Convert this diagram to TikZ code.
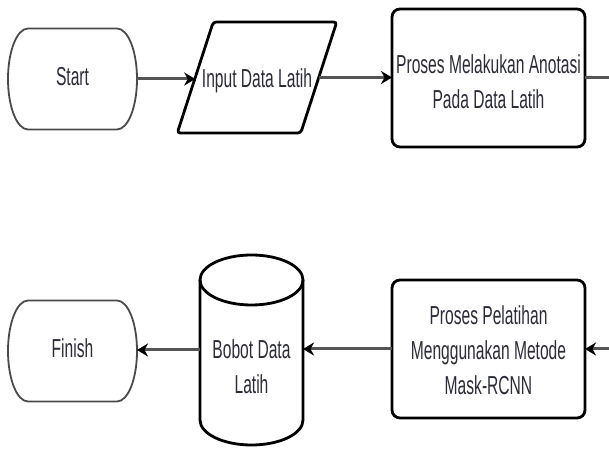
\documentclass[tikz,border=0pt]{standalone}
\usepackage{fontspec}
\setmainfont{Liberation Sans}
\usepackage{graphicx}
\usetikzlibrary{arrows.meta}
\definecolor{txt}{HTML}{2C2C38}
\definecolor{linegray}{HTML}{555555}
\definecolor{termgray}{HTML}{4A4A4A}
\newcommand{\tx}[1]{\textcolor{txt}{\scalebox{0.6}[1]{\begin{tabular}{@{}c@{}}#1\end{tabular}}}}
\tikzset{
  base/.style={inner sep=0pt, outer sep=0pt, font=\fontsize{26}{35}\selectfont},
  termnode/.style={base, minimum width=129pt, minimum height=101pt},
  iobox/.style={base, minimum width=123.5pt, minimum height=111pt},
  procbox/.style={base, draw=black, line width=2.8pt, rounded corners=8pt, fill=white, minimum width=193pt, minimum height=138pt},
  dbnode/.style={base, minimum width=103pt, minimum height=190pt},
  lbl/.style={base},
  termline/.style={draw=termgray, line width=1.8pt},
  shapeline/.style={draw=black, line width=2.8pt},
  conn/.style={draw=linegray, line width=3pt},
  arr/.style={conn, -{Stealth[length=11pt, width=13pt, inset=3.5pt, color=black]}},
}
\begin{document}
\begin{tikzpicture}[x=1pt, y=1pt]
\useasboundingbox (0,0) rectangle (609,449);
\fill[white] (0,0) rectangle (609,449);

% nodes
\node[termnode] (start) at (72.5,370) {\tx{Start}};
\node[iobox] (input) at (257,371.5) {};
\node[procbox] (proc1) at (488.5,371) {};
\node[procbox] (proc2) at (488.5,100) {};
\node[dbnode] (db) at (251.5,99) {};
\node[termnode] (finish) at (72.5,98) {\tx{Finish}};
\coordinate (out1) at (609,371);
\coordinate (in2) at (609,100);

% outlines
\draw[termline] ([xshift=20pt]start.north west) -- ([xshift=-20pt]start.north east)
  arc[start angle=90, end angle=-90, x radius=20pt, y radius=50.5pt]
  -- ([xshift=20pt]start.south west)
  arc[start angle=270, end angle=90, x radius=20pt, y radius=50.5pt] -- cycle;
\draw[termline] ([xshift=20pt]finish.north west) -- ([xshift=-20pt]finish.north east)
  arc[start angle=90, end angle=-90, x radius=20pt, y radius=50.5pt]
  -- ([xshift=20pt]finish.south west)
  arc[start angle=270, end angle=90, x radius=20pt, y radius=50.5pt] -- cycle;
\draw[shapeline, rounded corners=3pt] ([xshift=18pt]input.north west) -- ([xshift=18pt]input.north east)
  -- ([xshift=-18pt]input.south east) -- ([xshift=-18pt]input.south west) -- cycle;
\draw[shapeline] ([yshift=-25pt]db.north west) -- ([yshift=25pt]db.south west)
  arc[start angle=180, end angle=360, x radius=51.5pt, y radius=25pt]
  -- ([yshift=-25pt]db.north east);
\draw[shapeline] ([yshift=-25pt]db.north) ellipse [x radius=51.5pt, y radius=25pt];

% labels
\node[lbl] (inputlbl) at ([yshift=-3pt]input.center) {\tx{Input Data Latih}};
\node[lbl] (proc1lbl) at ([yshift=-6pt]proc1.center) {\tx{Proses Melakukan Anotasi\\Pada Data Latih}};
\node[lbl] (proc2lbl) at ([yshift=-4pt]proc2.center) {\tx{Proses Pelatihan\\Menggunakan Metode\\Mask-RCNN}};
\node[lbl] (dblbl) at ([yshift=-19pt]db.center) {\tx{Bobot Data\\Latih}};

% connectors
\draw[arr] (start.east) -- (start.east -| input.west);
\draw[arr] (input.east) -- (input.east -| proc1.west);
\draw[conn] (proc1.east) -- (proc1.east -| out1);
\draw[arr] (in2) -- (in2 -| proc2.east);
\draw[arr] (proc2.west) -- (proc2.west -| db.east);
\draw[arr] (db.west) -- (db.west -| finish.east);
\end{tikzpicture}
\end{document}
